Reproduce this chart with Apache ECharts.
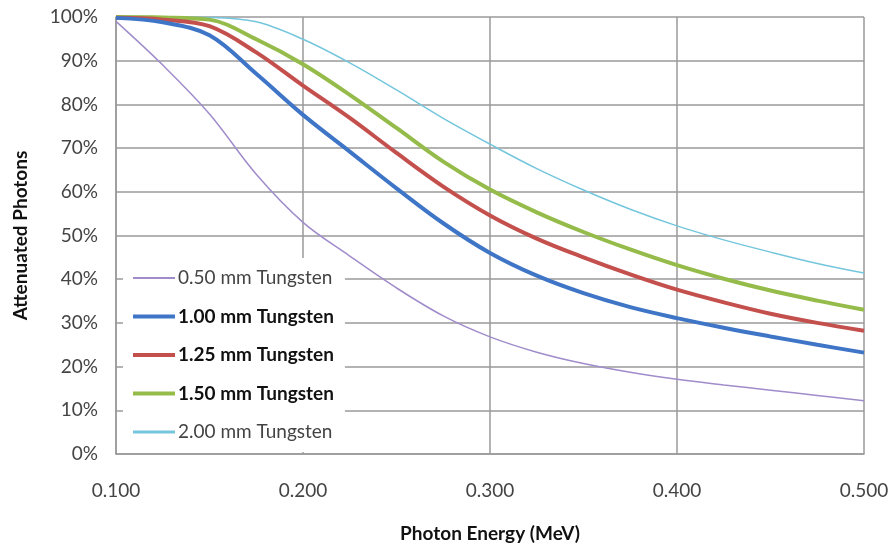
<!DOCTYPE html>
<html>
<head>
<meta charset="utf-8">
<script src="https://cdn.jsdelivr.net/npm/echarts@6/dist/echarts.min.js"></script>
<style>
  html, body { margin: 0; padding: 0; background: #fff; }
  #chart { width: 892px; height: 548px; }
</style>
</head>
<body>
<div id="chart"></div>
<script>
// Photon energy samples (MeV)
const energy = [0.100, 0.125, 0.150, 0.175, 0.200, 0.225, 0.250, 0.275, 0.300, 0.325, 0.350, 0.375, 0.400, 0.425, 0.450, 0.475, 0.500];

// Attenuated photons (%) for each tungsten thickness
const w050 = [99, 89, 77.8, 64, 53, 45.3, 38, 31.6, 26.8, 23.3, 20.7, 18.7, 17.1, 15.8, 14.6, 13.4, 12.2];
const w100 = [99.8, 98.8, 95.8, 87, 77.6, 69.2, 60.8, 52.8, 46, 40.8, 36.8, 33.6, 31.1, 28.9, 26.9, 25, 23.2];
const w125 = [99.8, 99.4, 97.9, 91.9, 84.3, 76.9, 68.9, 61.2, 54.6, 49.3, 45, 41.1, 37.6, 34.7, 32.1, 30, 28.2];
const w150 = [100, 99.9, 99.4, 94.9, 89.2, 82.2, 74.6, 66.9, 60.5, 55.3, 50.8, 46.8, 43.2, 40.1, 37.4, 35.1, 33];
const w200 = [100, 100, 99.9, 98.9, 94.9, 89.5, 83.3, 76.8, 70.9, 65.3, 60.4, 56, 52.2, 49, 46.2, 43.6, 41.4];

const seriesNames = ['0.50 mm Tungsten', '1.00 mm Tungsten', '1.25 mm Tungsten', '1.50 mm Tungsten', '2.00 mm Tungsten'];
const seriesValues = [w050, w100, w125, w150, w200];
const seriesColors = ['#a08ccb', '#3f75c6', '#c4504d', '#95bb4a', '#74c6dd'];
const seriesWidths = [1.5, 4, 4, 4, 1.5];
const legendLineWidths = [2, 4, 4, 4, 3];
const boldNames = [false, true, true, true, false];

const xTicks = [0.1, 0.5, 0.1]; // min, max, step
const yTicks = [0, 100, 10];

const font = 'Lato, "Open Sans", sans-serif';
const iconW = 42, iconH = 20;

// Flat line-segment legend marker of a given stroke thickness
function lineIcon(h) {
  const y = iconH / 2 - h / 2;
  return 'path://M0,0M' + iconW + ',' + iconH + 'M0,' + y + 'h' + iconW + 'v' + h + 'h-' + iconW + 'z';
}

const chart = echarts.init(document.getElementById('chart'));

const series = seriesNames.map((name, i) => ({
  name: name,
  type: 'line',
  data: energy.map((e, k) => [e, seriesValues[i][k]]),
  smooth: 0.35,
  symbol: 'none',
  lineStyle: { color: seriesColors[i], width: seriesWidths[i] },
  itemStyle: { color: seriesColors[i] },
  z: 5 - i
}));

chart.setOption({
  animation: false,
  backgroundColor: '#fff',
  grid: { left: 116, right: 28, top: 17, bottom: 91, containLabel: false },
  xAxis: {
    type: 'value',
    min: xTicks[0], max: xTicks[1], interval: xTicks[2],
    name: 'Photon Energy (MeV)',
    nameLocation: 'middle',
    nameGap: 70,
    nameTextStyle: { fontFamily: font, fontSize: 19, fontWeight: 'bold', color: '#111' },
    axisLine: { lineStyle: { color: '#9a9a9a', width: 1.5 } },
    axisTick: { show: false },
    axisLabel: {
      fontFamily: font, fontSize: 19, color: '#444', margin: 27,
      formatter: v => v.toFixed(3)
    },
    splitLine: { show: true, lineStyle: { color: '#9a9a9a', width: 1.5 } }
  },
  yAxis: {
    type: 'value',
    min: yTicks[0], max: yTicks[1], interval: yTicks[2],
    name: 'Attenuated Photons',
    nameLocation: 'middle',
    nameGap: 86,
    nameTextStyle: { fontFamily: font, fontSize: 19, fontWeight: 'bold', color: '#111' },
    axisLine: { show: true, lineStyle: { color: '#9a9a9a', width: 1.5 } },
    axisTick: { show: false },
    axisLabel: {
      fontFamily: font, fontSize: 19, color: '#444', margin: 18,
      formatter: '{value}%'
    },
    splitLine: { show: true, lineStyle: { color: '#9a9a9a', width: 1.5 } }
  },
  legend: {
    orient: 'vertical',
    left: 123,
    top: 258,
    padding: [10, 11, 10, 10],
    backgroundColor: '#fff',
    itemWidth: iconW,
    itemHeight: iconH,
    itemGap: 18.5,
    itemStyle: { borderWidth: 0 },
    textStyle: { fontFamily: font, fontSize: 19, color: '#444', lineHeight: 20, padding: [0, 0, 0, -2] },
    data: seriesNames.map((n, i) => ({
      name: n,
      icon: lineIcon(legendLineWidths[i]),
      itemStyle: { color: seriesColors[i], borderWidth: 0 },
      textStyle: boldNames[i] ? { fontWeight: 'bold', color: '#111' } : { fontWeight: 'normal', color: '#444' }
    }))
  },
  series: series
});
</script>
</body>
</html>
